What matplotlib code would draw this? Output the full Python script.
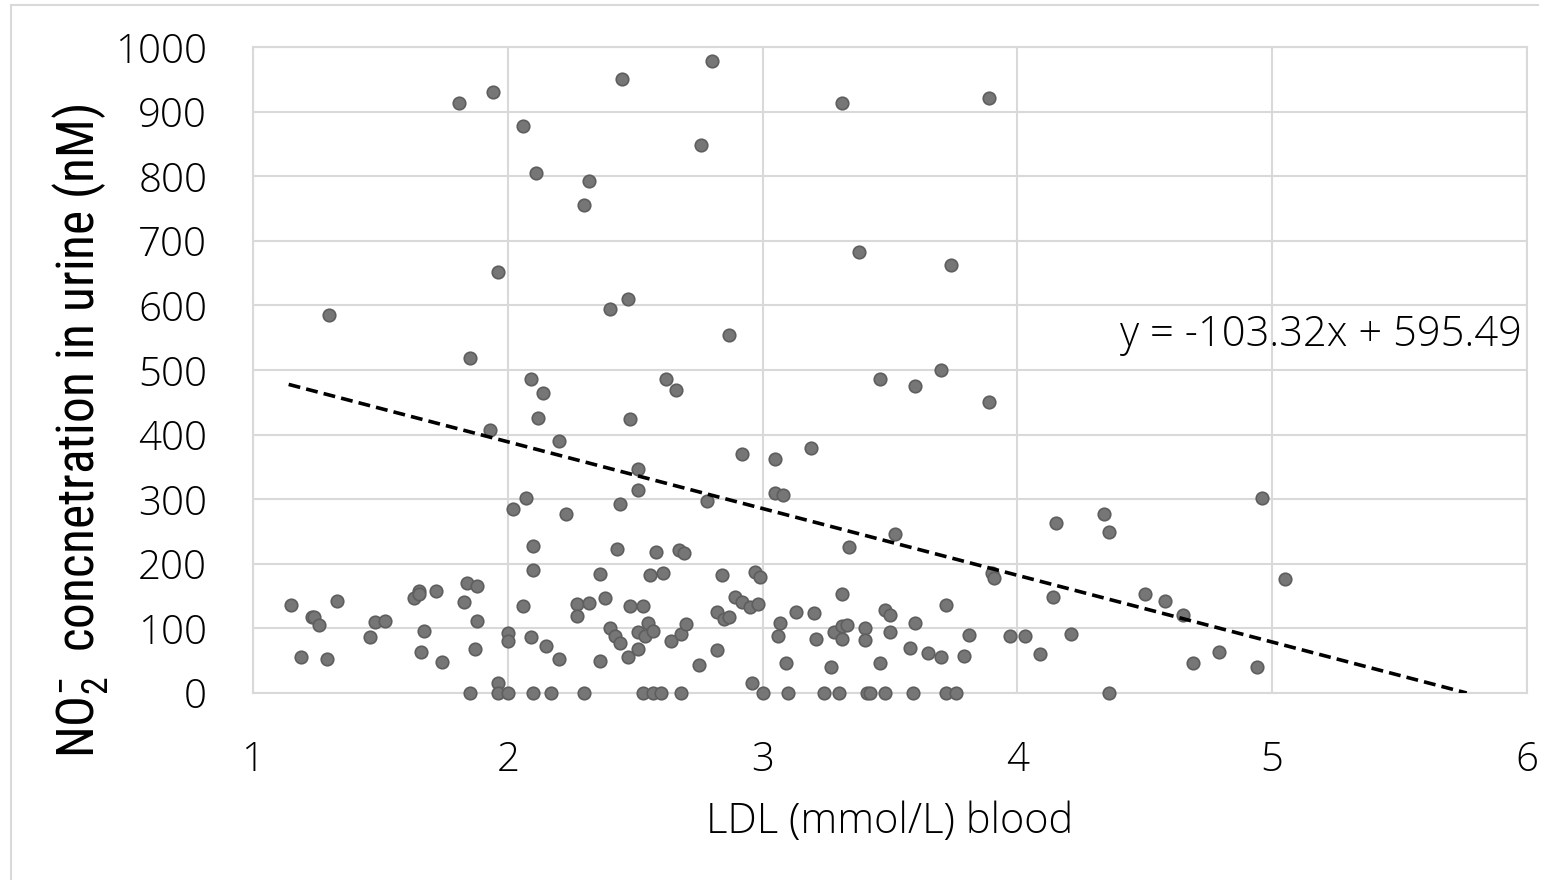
import matplotlib
matplotlib.use("Agg")
import matplotlib.pyplot as plt
from matplotlib import font_manager
from matplotlib.lines import Line2D

# LDL in blood (mmol/L) and urinary nitrite (nM)
ldl = [
    1.81, 1.94, 2.45, 2.80, 3.31, 3.89, 2.06, 2.76, 2.11, 2.32, 2.30, 3.38, 3.74,
    1.96, 1.30, 2.47, 2.40, 2.87, 1.85, 3.70, 2.09, 2.62, 3.46, 2.14, 2.66, 3.60,
    3.89, 2.12, 2.48, 1.93, 2.20, 2.92, 3.05, 3.19, 2.51,
    2.51, 3.05, 3.08, 2.07, 2.02, 2.23, 2.44, 2.78, 4.96, 4.34, 4.36, 4.15, 3.52,
    3.34, 2.10, 2.43, 2.58, 2.67, 2.69,
    5.05, 2.10, 2.36, 2.56, 2.61, 2.84, 2.97, 2.99, 3.90, 3.91,
    1.15, 1.19, 1.23, 1.24, 1.26, 1.29, 1.33, 1.46, 1.48, 1.52, 1.63, 1.65, 1.65,
    1.67, 1.66, 1.72, 1.74, 1.83, 1.84, 1.88, 1.88, 1.87, 1.96, 2.00, 2.00, 2.06,
    2.09, 2.15, 2.20, 2.27, 2.32, 2.27, 2.38, 2.36, 2.40, 2.42, 2.44, 2.48, 2.53,
    2.51, 2.54, 2.47, 2.51, 2.55, 2.57, 2.64, 2.68, 2.70, 2.75, 2.82, 2.85, 2.87,
    2.82, 2.89, 2.92, 2.95, 2.98, 2.96, 3.07, 3.06, 3.13, 3.09, 3.20, 3.21, 3.27,
    3.31, 3.28, 3.31, 3.33, 3.31, 3.40, 3.40, 3.48, 3.50, 3.50, 3.46, 3.60, 3.58,
    3.65, 3.70, 3.72, 3.81, 3.79, 3.97, 4.03, 4.09, 4.14, 4.21, 4.50, 4.58, 4.65,
    4.69, 4.79, 4.94,
    1.85, 1.96, 2.00, 2.10, 2.17, 2.30, 2.53, 2.57, 2.60, 2.68, 3.00, 3.10, 3.24,
    3.30, 3.41, 3.42, 3.48, 3.59, 3.72, 3.76, 4.36,
]
nitrite = [
    914, 931, 950, 978, 914, 921, 878, 849, 805, 793, 755, 683, 662,
    651, 585, 610, 594, 554, 519, 500, 486, 486, 486, 464, 469, 476,
    451, 425, 424, 407, 390, 370, 362, 379, 347,
    314, 309, 307, 302, 285, 277, 293, 297, 302, 277, 250, 263, 246,
    226, 228, 223, 218, 222, 217,
    176, 190, 184, 183, 186, 182, 188, 180, 185, 178,
    136, 55, 117, 117, 106, 53, 142, 86, 110, 111, 147, 158, 154,
    96, 64, 158, 48, 141, 171, 165, 111, 68, 15, 93, 80, 134,
    87, 72, 52, 138, 140, 119, 147, 50, 100, 88, 77, 134, 135,
    94, 89, 55, 68, 108, 96, 81, 91, 107, 43, 126, 115, 117,
    66, 148, 141, 133, 137, 15, 109, 88, 125, 47, 124, 83, 41,
    154, 95, 103, 105, 83, 101, 82, 128, 120, 94, 46, 109, 69,
    62, 56, 136, 90, 58, 88, 88, 60, 148, 91, 154, 142, 120,
    46, 63, 41,
    0, 0, 0, 0, 0, 0, 0, 0, 0, 0, 0, 0, 0,
    0, 0, 0, 0, 0, 0, 0, 0,
]

# linear fit reported on the chart
slope = -103.32
intercept = 595.49
fit_start = 1.14

x_ticks = [1, 2, 3, 4, 5, 6]
y_ticks = [0, 100, 200, 300, 400, 500, 600, 700, 800, 900, 1000]

installed = {f.name for f in font_manager.fontManager.ttflist}


def pick(*names):
    for n in names:
        if n in installed:
            return n
    return "DejaVu Sans"


main_font = pick("Open Sans", "Lato", "Noto Sans")
narrow_font = pick("Liberation Sans Narrow", "Roboto Condensed", "Noto Sans", "Liberation Sans")

plt.rcParams["font.family"] = [main_font, "DejaVu Sans"]
plt.rcParams["mathtext.fontset"] = "custom"
plt.rcParams["mathtext.rm"] = narrow_font
plt.rcParams["mathtext.it"] = narrow_font
plt.rcParams["mathtext.default"] = "regular"

W, H = 1547, 880
fig = plt.figure(figsize=(W / 100, H / 100), dpi=100)
fig.patch.set_facecolor("white")

ax = fig.add_axes([253 / W, 1 - 693 / H, (1527 - 253) / W, (693 - 47) / H])
ax.set_xlim(1, 6)
ax.set_ylim(0, 1000)
ax.set_xticks(x_ticks)
ax.set_yticks(y_ticks)
ax.grid(True, color="#d9d9d9", linewidth=1.5)
ax.set_axisbelow(True)
for s in ax.spines.values():
    s.set_color("#d9d9d9")
    s.set_linewidth(1.5)
ax.tick_params(length=0, labelsize=29, colors="#000000", pad=0)
ax.tick_params(axis="x", pad=34)
ax.tick_params(axis="y", pad=33)
for lab in ax.get_xticklabels() + ax.get_yticklabels():
    lab.set_fontweight("light")

ax.plot(ldl, nitrite, linestyle="none", marker="o", markersize=9,
        markerfacecolor="#767676", markeredgecolor="#5e5e5e", markeredgewidth=1.2,
        clip_on=False, zorder=3)

x_end = -intercept / slope
ax.plot([fit_start, x_end], [slope * fit_start + intercept, slope * x_end + intercept],
        color="black", linewidth=2.6, linestyle=(0, (3.3, 1.7)), zorder=4)

ax.text(5.98, 554, f"y = {slope:.2f}x + {intercept:.2f}", ha="right", va="center",
        fontsize=30, fontweight="light")

fig.text(890 / W, 1 - 822 / H, "LDL (mmol/L) blood", ha="center", va="center",
         fontsize=30, fontweight="light")
fig.text(80 / W, 1 - 431 / H, r"NO$_{2}^{-}$  concnetration in urine (nM)",
         rotation=90, ha="center", va="center", fontsize=37, family=[narrow_font, "DejaVu Sans"])

# light frame around the chart
fig.add_artist(Line2D([11 / W, 11 / W], [0, 1 - 5 / H], transform=fig.transFigure,
                      color="#d9d9d9", linewidth=1.5))
fig.add_artist(Line2D([11 / W, 1538 / W], [1 - 5 / H, 1 - 5 / H], transform=fig.transFigure,
                      color="#d9d9d9", linewidth=1.5))

fig.savefig("out.png", dpi=100, facecolor="white")
